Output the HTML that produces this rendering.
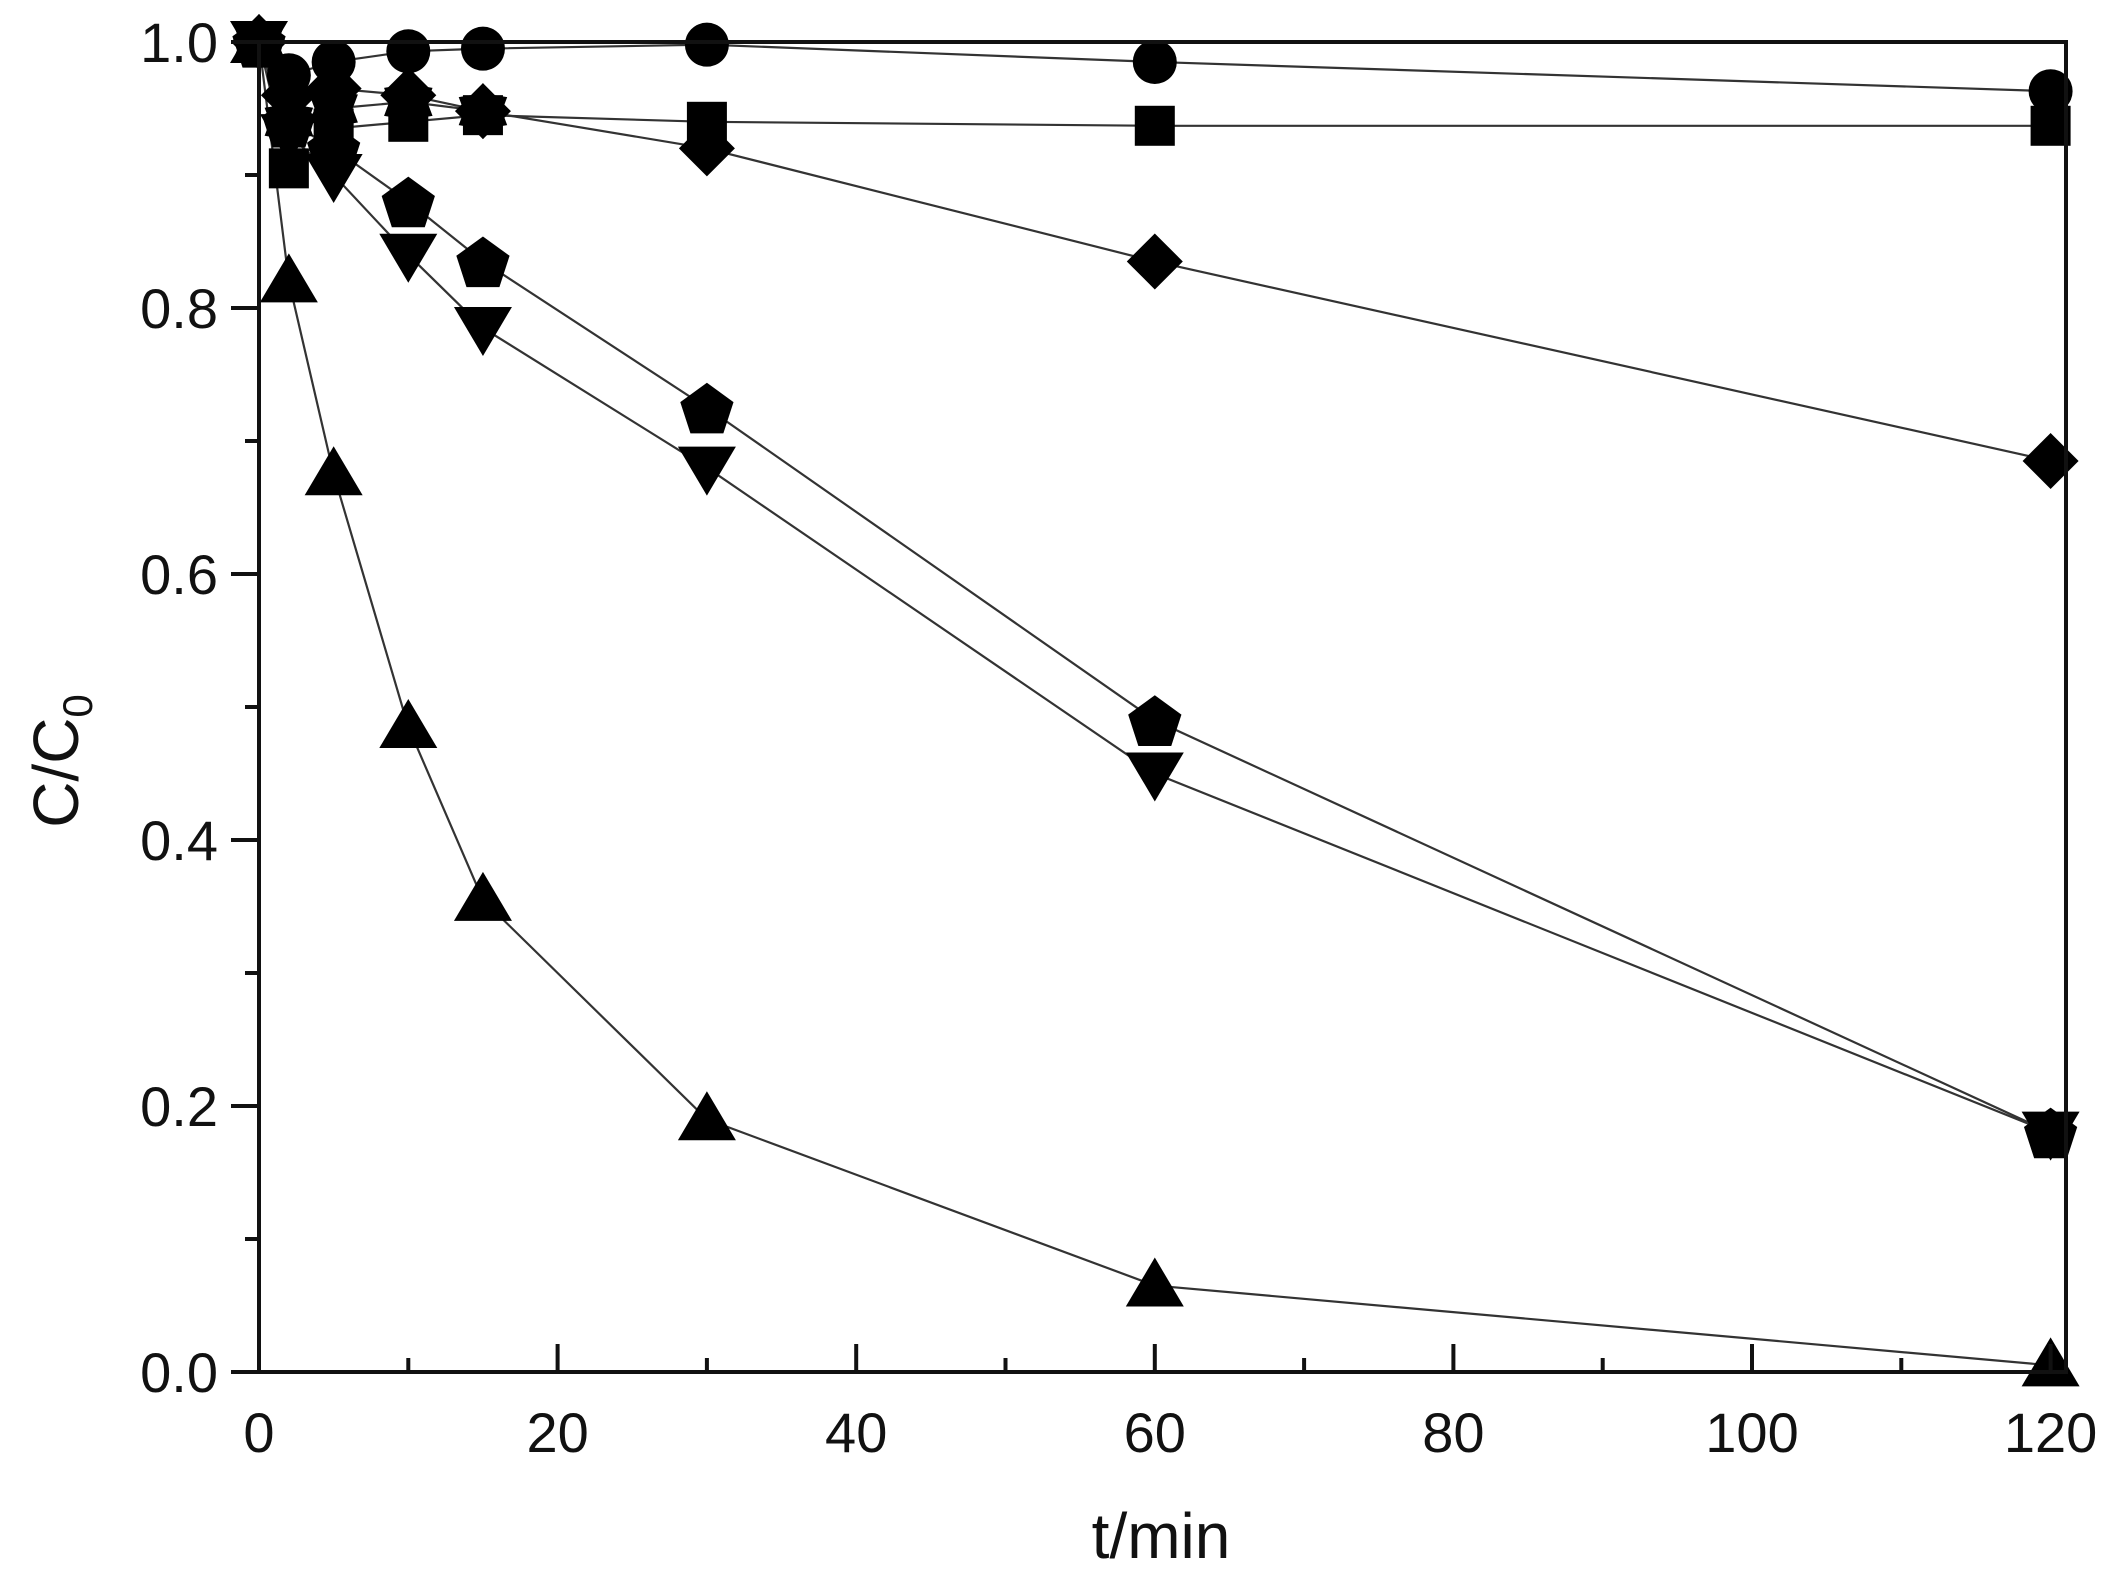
<!DOCTYPE html>
<html><head><meta charset="utf-8"><style>body{margin:0;background:#fff}svg{display:block}</style></head><body>
<svg id="s" width="2112" height="1584" viewBox="0 0 2112 1584" xmlns="http://www.w3.org/2000/svg" font-family="Liberation Sans, Arial, sans-serif">
<rect width="2112" height="1584" fill="#fff"/>
<g id="series" fill="none" stroke="#333" stroke-width="2.2"></g>
<g id="marks" fill="#000"></g>
<rect x="259" y="42" width="1807" height="1330" fill="none" stroke="#111" stroke-width="4"/>
<g id="ticks" stroke="#111" stroke-width="4"></g>
<g id="labels" font-size="56" fill="#111"></g>
<text x="1161" y="1558" font-size="64" text-anchor="middle" fill="#111">t/min</text>
<text transform="translate(78,761) rotate(-90)" font-size="64" text-anchor="middle" fill="#111">C/C<tspan font-size="42" dy="14">0</tspan></text>
</svg>
<script>
const X=v=>259+v*14.93, Y=v=>1372-1330*v, NS="http://www.w3.org/2000/svg";
const t=[0,2,5,10,15,30,60,120];
const S=[
 ["c",[1,0.975,0.985,0.993,0.995,0.998,0.985,0.963]],
 ["s",[1,0.905,0.935,0.94,0.945,0.94,0.937,0.937]],
 ["d",[1,0.96,0.965,0.96,0.948,0.92,0.835,0.685]],
 ["u",[1,0.82,0.675,0.485,0.355,0.19,0.065,0.005]],
 ["v",[1,0.93,0.9,0.84,0.785,0.68,0.45,0.18]],
 ["p",[1,0.94,0.92,0.88,0.835,0.725,0.49,0.18]],
 ["h",[1,0.94,0.95,0.955,0.948]]
];
const g=document.getElementById("series"),m=document.getElementById("marks");
function el(n,a,p){const e=document.createElementNS(NS,n);for(const k in a)e.setAttribute(k,a[k]);p.appendChild(e);return e;}
function poly(pts,x,y){return pts.map(([a,b])=>(x+a)+","+(y+b)).join(" ");}
function mark(k,x,y){
 if(k=="c")el("circle",{cx:x,cy:y,r:22},m);
 else if(k=="s")el("rect",{x:x-20,y:y-20,width:40,height:40},m);
 else if(k=="d")el("polygon",{points:poly([[0,-28],[28,0],[0,28],[-28,0]],x,y)},m);
 else if(k=="u")el("polygon",{points:poly([[0,-28],[29,21],[-29,21]],x,y)},m);
 else if(k=="v")el("polygon",{points:poly([[0,28],[29,-21],[-29,-21]],x,y)},m);
 else if(k=="p"){let p=[];for(let i=0;i<5;i++){const a=-Math.PI/2+i*2*Math.PI/5;p.push([28*Math.cos(a),28*Math.sin(a)+3]);}el("polygon",{points:poly(p,x,y)},m);}
 else if(k=="h"){let p=[];for(let i=0;i<12;i++){const a=-Math.PI/2+i*Math.PI/6,r=i%2?19:28;p.push([r*Math.cos(a),r*Math.sin(a)]);}el("polygon",{points:poly(p,x,y)},m);}
}
S.forEach(([k,v])=>{el("polyline",{points:v.map((y,i)=>X(t[i])+","+Y(y)).join(" ")},g);});
S.forEach(([k,v])=>{v.forEach((y,i)=>mark(k,X(t[i]),Y(y)));});
const tk=document.getElementById("ticks"),lb=document.getElementById("labels");
for(let v=0;v<=120;v+=10){const x=X(v),L=v%20?14:28;el("line",{x1:x,y1:1372,x2:x,y2:1372-L},tk);
 if(v%20==0){const e=el("text",{x:x,y:1452,"text-anchor":"middle"},lb);e.textContent=v;}}
for(let i=0;i<=10;i++){const v=i/10,y=Y(v),L=i%2?14:28;el("line",{x1:259-L,y1:y,x2:259,y2:y},tk);
 if(i%2==0){const e=el("text",{x:218,y:y+20,"text-anchor":"end"},lb);e.textContent=v.toFixed(1);}}
</script>
</body></html>
